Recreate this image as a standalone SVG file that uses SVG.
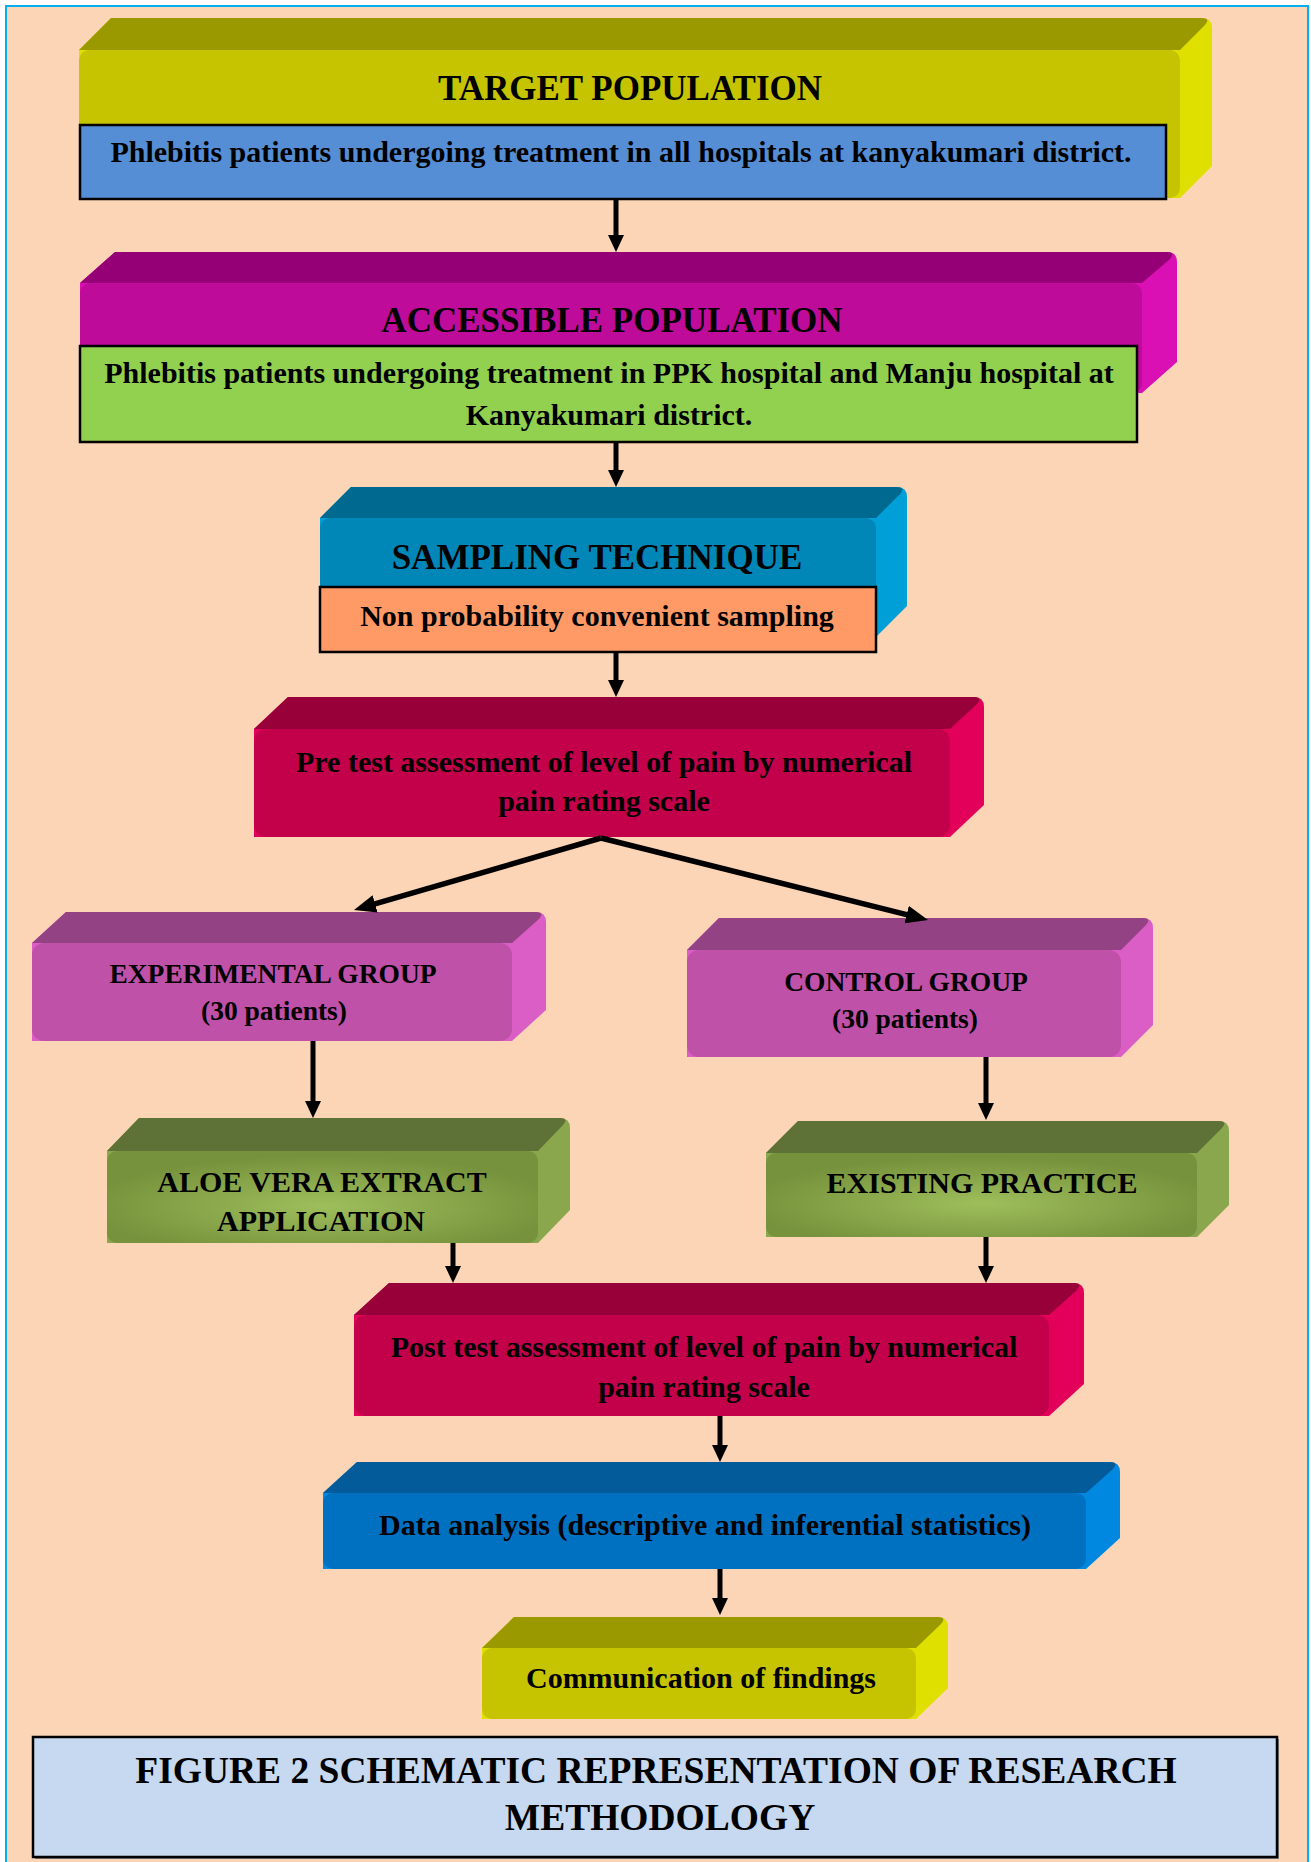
<svg xmlns="http://www.w3.org/2000/svg" width="1311" height="1862" viewBox="0 0 1311 1862">
<defs>
<style>
text{font-family:"Liberation Serif","Times New Roman",serif;font-weight:bold;fill:#000;text-anchor:middle}
.h{font-size:35px}
.b{font-size:30px}
.g{font-size:27.5px}
.c{font-size:37.5px}
.con{stroke:#000;stroke-width:5;fill:none}
.dia{stroke:#000;stroke-width:5.5;fill:none}
.inner{stroke:#000;stroke-width:2.5}
.yl-s{fill:#E0E000}.yl-t{fill:#9A9A00}.yl-f{fill:#C6C400}
.mg-s{fill:#DA10B4}.mg-t{fill:#960077}.mg-f{fill:#BF0B99}
.bl-s{fill:#009FD8}.bl-t{fill:#00698F}.bl-f{fill:#0087B8}
.cr-s{fill:#E2005A}.cr-t{fill:#98003A}.cr-f{fill:#C3004A}
.pk-s{fill:#DB5EC6}.pk-t{fill:#934283}.pk-f{fill:#C051A9}
.ol-s{fill:#8BA74D}.ol-t{fill:#5E7136}.ol-f{fill:url(#olive)}
.db-s{fill:#0088E0}.db-t{fill:#035C99}.db-f{fill:#0070C0}
</style>
<marker id="ah" markerUnits="userSpaceOnUse" markerWidth="17" markerHeight="16" viewBox="0 0 17 16" refX="2" refY="8" orient="auto"><path d="M0,0 L17,8 L0,16 z" fill="#000"/></marker>
<marker id="ahb" markerUnits="userSpaceOnUse" markerWidth="22" markerHeight="18" viewBox="0 0 22 18" refX="2" refY="9" orient="auto"><path d="M0,0 L22,9 L0,18 z" fill="#000"/></marker>
<radialGradient id="olive" cx="50%" cy="60%" r="55%">
<stop offset="0" stop-color="#9EBE5B"/>
<stop offset="1" stop-color="#76923C"/>
</radialGradient>
</defs>

<rect x="0" y="0" width="1311" height="1862" fill="#FFFFFF"/>
<rect x="6" y="6" width="1302" height="1870" fill="#FBD5B5" stroke="#00B0F0" stroke-width="2"/>

<g id="target">
<path class="yl-s" d="M79,198 L79,50 L111,18 L1202,18 Q1212,18 1212,28 L1212,166 L1180,198 Z"/>
<path class="yl-t" d="M79,50 L111,18 L1202,18 Q1211,18 1205,25 L1180,50 Z"/>
<rect class="yl-f" x="79" y="50" width="1101" height="148" rx="10"/>
<text class="h" x="630" y="100">TARGET POPULATION</text>
<rect class="inner" x="80" y="125" width="1086" height="74" fill="#558ED5"/>
<text class="b" x="621" y="162">Phlebitis patients undergoing treatment in all hospitals at kanyakumari district.</text>
</g>

<g id="accessible">
<path class="mg-s" d="M80,393 L80,283 L115,252 L1167,252 Q1177,252 1177,262 L1177,362 L1142,393 Z"/>
<path class="mg-t" d="M80,283 L115,252 L1167,252 Q1176,252 1170,259 L1142,283 Z"/>
<rect class="mg-f" x="80" y="283" width="1062" height="110" rx="10"/>
<text class="h" x="612" y="332">ACCESSIBLE POPULATION</text>
<rect class="inner" x="80" y="346" width="1057" height="96" fill="#92D050"/>
<text class="b" x="609" y="383">Phlebitis patients undergoing treatment in PPK hospital and Manju hospital at</text>
<text class="b" x="609" y="425">Kanyakumari district.</text>
</g>

<g id="sampling">
<path class="bl-s" d="M320,637 L320,518 L351,487 L897,487 Q907,487 907,497 L907,606 L876,637 Z"/>
<path class="bl-t" d="M320,518 L351,487 L897,487 Q906,487 900,494 L876,518 Z"/>
<rect class="bl-f" x="320" y="518" width="556" height="119" rx="10"/>
<text class="h" x="597" y="569">SAMPLING TECHNIQUE</text>
<rect class="inner" x="320" y="587" width="556" height="65" fill="#FF9966"/>
<text class="b" x="597" y="626">Non probability convenient sampling</text>
</g>

<g id="pretest">
<path class="cr-s" d="M254,837 L254,729 L288,697 L974,697 Q984,697 984,707 L984,805 L950,837 Z"/>
<path class="cr-t" d="M254,729 L288,697 L974,697 Q983,697 977,704 L950,729 Z"/>
<rect class="cr-f" x="254" y="729" width="696" height="108" rx="12"/>
<text class="b" x="604" y="772">Pre test assessment of level of pain by numerical</text>
<text class="b" x="604" y="811">pain rating scale</text>
</g>

<g id="experimental">
<path class="pk-s" d="M32,1041 L32,943 L66,912 L536,912 Q546,912 546,922 L546,1010 L512,1041 Z"/>
<path class="pk-t" d="M32,943 L66,912 L536,912 Q545,912 539,919 L512,943 Z"/>
<rect class="pk-f" x="32" y="943" width="480" height="98" rx="12"/>
<text class="g" x="273" y="983">EXPERIMENTAL GROUP</text>
<text class="g" x="274" y="1020">(30 patients)</text>
</g>

<g id="control">
<path class="pk-s" d="M687,1057 L687,950 L719,918 L1143,918 Q1153,918 1153,928 L1153,1025 L1121,1057 Z"/>
<path class="pk-t" d="M687,950 L719,918 L1143,918 Q1152,918 1146,925 L1121,950 Z"/>
<rect class="pk-f" x="687" y="950" width="434" height="107" rx="12"/>
<text class="g" x="906" y="991">CONTROL GROUP</text>
<text class="g" x="905" y="1028">(30 patients)</text>
</g>

<g id="aloevera">
<path class="ol-s" d="M107,1243 L107,1151 L139,1118 L560,1118 Q570,1118 570,1128 L570,1210 L538,1243 Z"/>
<path class="ol-t" d="M107,1151 L139,1118 L560,1118 Q569,1118 563,1125 L538,1151 Z"/>
<rect class="ol-f" x="107" y="1151" width="431" height="92" rx="10"/>
<text class="b" x="322" y="1192">ALOE VERA EXTRACT</text>
<text class="b" x="321" y="1231">APPLICATION</text>
</g>

<g id="existing">
<path class="ol-s" d="M766,1237 L766,1153 L798,1121 L1219,1121 Q1229,1121 1229,1131 L1229,1205 L1197,1237 Z"/>
<path class="ol-t" d="M766,1153 L798,1121 L1219,1121 Q1228,1121 1222,1128 L1197,1153 Z"/>
<rect class="ol-f" x="766" y="1153" width="431" height="84" rx="10"/>
<text class="b" x="982" y="1193">EXISTING PRACTICE</text>
</g>

<g id="posttest">
<path class="cr-s" d="M354,1416 L354,1315 L389,1283 L1074,1283 Q1084,1283 1084,1293 L1084,1384 L1049,1416 Z"/>
<path class="cr-t" d="M354,1315 L389,1283 L1074,1283 Q1083,1283 1077,1290 L1049,1315 Z"/>
<rect class="cr-f" x="354" y="1315" width="695" height="101" rx="12"/>
<text class="b" x="704" y="1357">Post test assessment of level of pain by numerical</text>
<text class="b" x="704" y="1397">pain rating scale</text>
</g>

<g id="dataanalysis">
<path class="db-s" d="M323,1569 L323,1493 L357,1462 L1110,1462 Q1120,1462 1120,1472 L1120,1538 L1086,1569 Z"/>
<path class="db-t" d="M323,1493 L357,1462 L1110,1462 Q1119,1462 1113,1469 L1086,1493 Z"/>
<rect class="db-f" x="323" y="1493" width="763" height="76" rx="10"/>
<text class="b" x="705" y="1535">Data analysis (descriptive and inferential statistics)</text>
</g>

<g id="communication">
<path class="yl-s" d="M482,1719 L482,1648 L514,1617 L938,1617 Q948,1617 948,1627 L948,1688 L916,1719 Z"/>
<path class="yl-t" d="M482,1648 L514,1617 L938,1617 Q947,1617 941,1624 L916,1648 Z"/>
<rect class="yl-f" x="482" y="1648" width="434" height="71" rx="10"/>
<text class="b" x="701" y="1688">Communication of findings</text>
</g>

<g id="connectors">
<line class="con" x1="616" y1="199" x2="616" y2="237" marker-end="url(#ah)"/>
<line class="con" x1="616" y1="442" x2="616" y2="472" marker-end="url(#ah)"/>
<line class="con" x1="616" y1="652" x2="616" y2="682" marker-end="url(#ah)"/>
<path class="dia" d="M601,838 L373.2,904.4" marker-end="url(#ahb)"/>
<path class="dia" d="M601,838 L908.6,915.1" marker-end="url(#ahb)"/>
<line class="con" x1="313" y1="1041" x2="313" y2="1103" marker-end="url(#ah)"/>
<line class="con" x1="986" y1="1057" x2="986" y2="1105" marker-end="url(#ah)"/>
<line class="con" x1="453" y1="1243" x2="453" y2="1268" marker-end="url(#ah)"/>
<line class="con" x1="986" y1="1237" x2="986" y2="1268" marker-end="url(#ah)"/>
<line class="con" x1="720" y1="1416" x2="720" y2="1447" marker-end="url(#ah)"/>
<line class="con" x1="720" y1="1569" x2="720" y2="1600" marker-end="url(#ah)"/>
</g>

<g id="caption">
<rect x="35" y="1739" width="1244" height="120" fill="#7F7F7F"/>
<rect x="33" y="1737" width="1244" height="120" fill="#C6D9F1" stroke="#000" stroke-width="2.5"/>
<text class="c" x="656" y="1783">FIGURE 2 SCHEMATIC REPRESENTATION OF RESEARCH</text>
<text class="c" x="660" y="1830">METHODOLOGY</text>
</g>
</svg>
